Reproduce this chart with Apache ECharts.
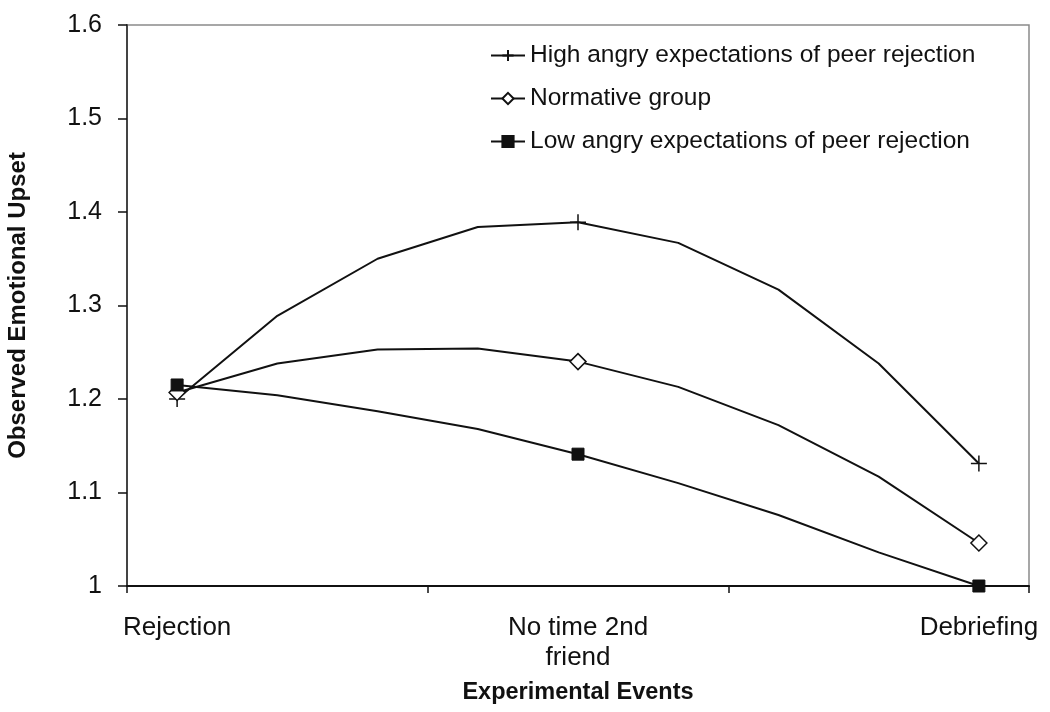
<!DOCTYPE html>
<html>
<head>
<meta charset="utf-8">
<script src="https://cdn.jsdelivr.net/npm/echarts@6/dist/echarts.min.js"></script>
<style>
html,body{margin:0;padding:0;background:#fff;}
#chart{width:1050px;height:712px;}
</style>
</head>
<body>
<div id="chart"></div>
<script>
// Time steps along the experimental events (markers only at the three events)
const categories = ['Rejection', '', '', '', 'No time 2nd\nfriend', '', '', '', 'Debriefing'];
const markerSteps = [0, 4, 8];
const seriesNames = [
  'High angry expectations of peer rejection',
  'Normative group',
  'Low angry expectations of peer rejection'
];
const highValues = [1.200, 1.289, 1.350, 1.384, 1.389, 1.367, 1.317, 1.238, 1.131];
const normValues = [1.207, 1.238, 1.253, 1.254, 1.240, 1.213, 1.172, 1.117, 1.046];
const lowValues  = [1.215, 1.204, 1.187, 1.168, 1.141, 1.110, 1.076, 1.036, 1.000];
const yTicks = [1, 1.1, 1.2, 1.3, 1.4, 1.5, 1.6];

const INK = '#111';
function toData(vals) {
  return vals.map((v, i) => markerSteps.indexOf(i) >= 0 ? v : { value: v, symbol: 'none' });
}
function makeSeries(name, vals, symbol, size, itemStyle) {
  return {
    name: name,
    type: 'line',
    data: toData(vals),
    symbol: symbol,
    symbolSize: size,
    showAllSymbol: true,
    smooth: false,
    lineStyle: { color: INK, width: 2 },
    itemStyle: itemStyle,
    emphasis: { disabled: true },
    z: 3
  };
}

const chart = echarts.init(document.getElementById('chart'));
chart.setOption({
  animation: false,
  backgroundColor: '#fff',
  textStyle: { fontFamily: 'Liberation Sans, Arial, sans-serif', color: INK },
  grid: {
    left: 127, right: 21, top: 25, bottom: 126,
    outerBoundsMode: 'none',
    containLabel: false,
    show: true, borderColor: '#8a8a8a', borderWidth: 1.5, backgroundColor: 'transparent'
  },
  legend: {
    orient: 'vertical',
    left: 485,
    top: 38,
    padding: 5,
    itemWidth: 34,
    itemHeight: 14,
    itemGap: 18,
    selectedMode: false,
    textStyle: { fontSize: 24.5, color: INK, lineHeight: 25, fontFamily: 'Liberation Sans, Arial, sans-serif' },
    data: seriesNames
  },
  xAxis: {
    type: 'category',
    data: categories,
    boundaryGap: true,
    name: 'Experimental Events',
    nameLocation: 'middle',
    nameGap: 95,
    nameTextStyle: { fontSize: 23.5, fontWeight: 'bold', color: INK },
    axisLine: { lineStyle: { color: INK, width: 2 } },
    axisTick: {
      show: true, length: 7, inside: false,
      interval: function (index) { return index % 3 === 0; },
      lineStyle: { color: INK, width: 1.5 }
    },
    axisLabel: {
      interval: function (index) { return markerSteps.indexOf(index) >= 0; },
      fontSize: 26, lineHeight: 30, margin: 27, color: INK, align: 'center'
    },
    splitLine: { show: false }
  },
  yAxis: {
    type: 'value',
    min: 1, max: 1.6, interval: 0.1,
    name: 'Observed Emotional Upset',
    nameLocation: 'middle',
    nameGap: 97,
    nameRotate: 90,
    nameTextStyle: { fontSize: 24, fontWeight: 'bold', color: INK },
    axisLine: { show: true, lineStyle: { color: '#444', width: 2 } },
    axisTick: { show: true, length: 9, inside: false, lineStyle: { color: INK, width: 1.5 } },
    axisLabel: {
      fontSize: 25, margin: 25, color: INK,
      formatter: function (v) {
        const t = yTicks.find(x => Math.abs(x - v) < 1e-6);
        return t === undefined ? '' : String(t);
      }
    },
    splitLine: { show: false }
  },
  series: [
    makeSeries(seriesNames[0], highValues, 'path://M0,5L10,5M5,0L5,10', 16,
      { color: INK, borderColor: INK, borderWidth: 1.5 }),
    makeSeries(seriesNames[1], normValues, 'diamond', 16,
      { color: '#fff', borderColor: INK, borderWidth: 1.5 }),
    makeSeries(seriesNames[2], lowValues, 'rect', 12,
      { color: INK, borderColor: INK, borderWidth: 1 })
  ]
});
</script>
</body>
</html>
